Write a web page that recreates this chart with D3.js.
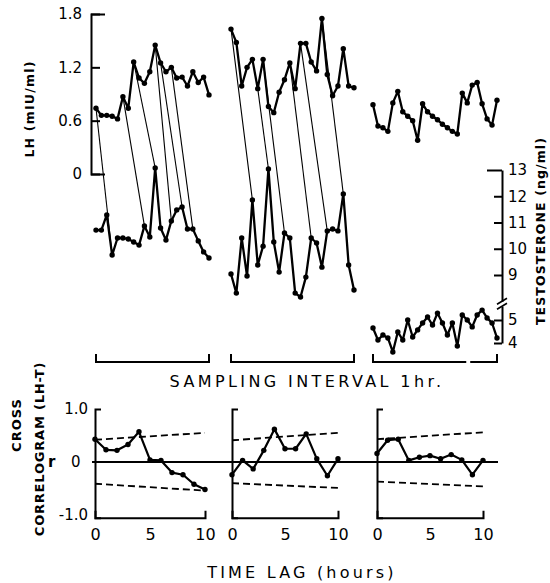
<!DOCTYPE html>
<html>
<head>
<meta charset="utf-8">
<script src="https://cdn.jsdelivr.net/npm/d3@7"></script>
<style>
  body { margin: 0; background: #fff; }
  svg { display: block; font-family: "DejaVu Sans", sans-serif; }
</style>
</head>
<body>
<div id="chart"></div>
<script>
let width = 550,
    height = 583;

// hourly LH (mIU/ml) and testosterone (ng/ml), three men
const lhA = [0.74, 0.66, 0.66, 0.65, 0.62, 0.87, 0.74, 1.26, 1.08, 1.02, 1.15, 1.45, 1.25, 1.15, 1.20, 1.08, 1.09, 0.99, 1.15, 1.03, 1.09, 0.89];
const tA  = [10.71, 10.71, 11.29, 9.76, 10.41, 10.41, 10.37, 10.26, 10.14, 10.87, 10.45, 13.08, 10.79, 10.33, 11.06, 11.48, 11.59, 10.75, 10.75, 10.30, 9.88, 9.65];
const lhB = [1.63, 1.48, 0.99, 1.20, 1.29, 0.96, 1.29, 0.76, 0.69, 0.92, 1.06, 1.25, 0.96, 1.47, 1.47, 1.26, 1.16, 1.75, 1.12, 0.88, 0.99, 1.41, 0.99, 0.97];
const tB  = [9.04, 8.31, 10.41, 8.96, 11.86, 9.38, 10.10, 13.04, 10.26, 9.11, 10.60, 10.41, 8.31, 8.16, 8.92, 10.41, 10.22, 9.30, 10.68, 10.75, 10.68, 12.09, 9.38, 8.43];
const lhC = [0.78, 0.54, 0.52, 0.48, 0.80, 0.93, 0.70, 0.65, 0.60, 0.38, 0.79, 0.70, 0.65, 0.61, 0.56, 0.52, 0.48, 0.45, 0.91, 0.80, 1.00, 1.03, 0.79, 0.62, 0.55, 0.83];
const tC  = [4.65, 4.13, 4.35, 4.22, 3.61, 4.48, 4.13, 5.00, 4.26, 4.57, 4.87, 5.13, 4.78, 5.30, 4.87, 4.35, 4.87, 3.87, 5.22, 5.00, 4.70, 5.22, 5.43, 5.09, 4.87, 4.22];

// LH pulse -> following T pulse (sample indexes)
const linksA = [[0, 3], [5, 9], [7, 11], [11, 14], [12, 16], [14, 18]];
const linksB = [[0, 4], [5, 7], [6, 10], [11, 15], [13, 18], [17, 21]];

const lhTicks = [0, 0.6, 1.2, 1.8];
const tTicksHi = [9, 10, 11, 12, 13];
const tTicksLo = [4, 5];

// cross correlograms
const lags = [0, 1, 2, 3, 4, 5, 6, 7, 8, 9, 10];
const ccA = [0.43, 0.23, 0.22, 0.33, 0.57, 0.04, 0.03, -0.20, -0.24, -0.42, -0.52];
const ccB = [-0.24, 0.03, -0.13, 0.22, 0.62, 0.25, 0.25, 0.53, 0.06, -0.26, 0.06];
const ccC = [0.16, 0.41, 0.43, 0.03, 0.09, 0.12, 0.06, 0.14, 0.04, -0.24, 0.03];
const limitLags = [0, 10];
const upperA = [0.42, 0.55], lowerA = [-0.41, -0.54];
const upperB = [0.41, 0.55], lowerB = [-0.40, -0.49];
const upperC = [0.43, 0.56], lowerC = [-0.37, -0.46];
const lagTicks = [0, 5, 10];
const rTicks = [-1, 1];
const rLabels = ["-1.0", "1.0"];

const svg = d3.select("#chart")
  .append("svg")
  .attr("width", width)
  .attr("height", height);

let lhY = d3.scaleLinear().domain([0, 1.8]).range([174, 14]);
let tHi = d3.scaleLinear().domain([9, 13]).range([275, 170]);
let tLo = d3.scaleLinear().domain([4, 5]).range([343, 320]);

let panels = [
  { lh: lhA, t: tA, ty: tHi, x0: 96, x1: 209, links: linksA, gap: null },
  { lh: lhB, t: tB, ty: tHi, x0: 231, x1: 354, links: linksB, gap: null },
  { lh: lhC, t: tC, ty: tLo, x0: 373, x1: 497, links: [], gap: [18.8, 19.6] }
];

// ---- LH axis
let lhAxis = svg.append("g")
  .attr("transform", "translate(91,0)")
  .call(d3.axisLeft(lhY).tickValues(lhTicks).tickSizeInner(-9).tickSizeOuter(-14).tickPadding(9)
    .tickFormat(d => d === 0 ? "0" : d.toFixed(1)));
lhAxis.selectAll("path, line").attr("stroke", "#000").attr("stroke-width", 2);
lhAxis.selectAll("text").attr("font-size", 15).attr("fill", "#000").attr("font-family", "DejaVu Sans");

svg.append("text")
  .attr("transform", "translate(34,109) rotate(-90)")
  .attr("text-anchor", "middle")
  .attr("font-size", 12.5).attr("font-weight", "bold").attr("letter-spacing", 1.2)
  .text("LH (mIU/ml)");

// ---- testosterone axis (with break)
let tAxisX = 502;
let tHiAx = tHi.copy().domain([8, 13]).range([tHi(8), tHi(13)]);
let tLoAx = tLo.copy().domain([4, 5.6]).range([tLo(4), tLo(5.6)]);

let tg1 = svg.append("g")
  .attr("transform", `translate(${tAxisX},0)`)
  .call(d3.axisRight(tHiAx).tickValues(tTicksHi).tickSizeInner(-8).tickSizeOuter(0).tickPadding(6)
    .tickFormat(d3.format("d")));
tg1.selectAll(".tick").filter(d => d === 13).select("line").attr("x2", -15);

let tg2 = svg.append("g")
  .attr("transform", `translate(${tAxisX},0)`)
  .call(d3.axisRight(tLoAx).tickValues(tTicksLo).tickSizeInner(-8).tickSizeOuter(0).tickPadding(6)
    .tickFormat(d3.format("d")));

for (let g of [tg1, tg2]) {
  g.selectAll("path, line").attr("stroke", "#000").attr("stroke-width", 2);
  g.selectAll("text").attr("font-size", 15).attr("fill", "#000").attr("font-family", "DejaVu Sans");
}

for (let yb of [tHiAx(8), tLoAx(5.6)]) {
  svg.append("line")
    .attr("x1", tAxisX - 5).attr("y1", yb + 3)
    .attr("x2", tAxisX + 5).attr("y2", yb - 3)
    .attr("stroke", "#000").attr("stroke-width", 1.6);
}

svg.append("text")
  .attr("transform", "translate(545,231) rotate(-90)")
  .attr("text-anchor", "middle")
  .attr("font-size", 12.5).attr("font-weight", "bold").attr("letter-spacing", 1.1)
  .text("TESTOSTERONE (ng/ml)");

// ---- series
for (let p of panels) {
  let x = d3.scaleLinear().domain([0, p.lh.length - 1]).range([p.x0, p.x1]);
  let g = svg.append("g");

  for (let [a, b] of p.links) {
    g.append("line")
      .attr("x1", x(a)).attr("y1", lhY(p.lh[a]))
      .attr("x2", x(b)).attr("y2", p.ty(p.t[b]))
      .attr("stroke", "#000").attr("stroke-width", 1.1);
  }

  let lhLine = d3.line().x((d, i) => x(i)).y(d => lhY(d));
  let tLine = d3.line().x((d, i) => x(i)).y(d => p.ty(d));

  g.append("path").datum(p.lh).attr("d", lhLine)
    .attr("fill", "none").attr("stroke", "#000").attr("stroke-width", 2.3).attr("stroke-linejoin", "round");
  g.append("path").datum(p.t).attr("d", tLine)
    .attr("fill", "none").attr("stroke", "#000").attr("stroke-width", 2.3).attr("stroke-linejoin", "round");

  g.selectAll(".lhdot").data(p.lh).join("circle")
    .attr("cx", (d, i) => x(i)).attr("cy", d => lhY(d)).attr("r", 2.7);
  g.selectAll(".tdot").data(p.t).join("circle")
    .attr("cx", (d, i) => x(i)).attr("cy", d => p.ty(d)).attr("r", 2.7);

  // sampling bracket
  let n = p.lh.length - 1;
  let segs = p.gap ? [[0, p.gap[0]], [p.gap[1], n]] : [[0, n]];
  let yB = 362, up = 8;
  let d = "";
  segs.forEach((s, k) => {
    let left = k === 0, right = k === segs.length - 1;
    d += `M${x(s[0])},${left ? yB - up : yB}V${yB}H${x(s[1])}${right ? "V" + (yB - up) : ""}`;
  });
  g.append("path").attr("d", d).attr("fill", "none").attr("stroke", "#000").attr("stroke-width", 2);
}

svg.append("text")
  .attr("x", 307).attr("y", 387)
  .attr("text-anchor", "middle")
  .attr("font-size", 16).attr("letter-spacing", 3.4)
  .text("SAMPLING INTERVAL 1hr.");

// ---- cross correlograms
let rScale = d3.scaleLinear().domain([-1, 1]).range([515, 409]);
let rFrame = rScale.copy().domain([-1.05, 1]).range([rScale(-1.05), rScale(1)]);

let ccPanels = [
  { cc: ccA, up: upperA, lo: lowerA, x0: 95, x1: 205 },
  { cc: ccB, up: upperB, lo: lowerB, x0: 232, x1: 338 },
  { cc: ccC, up: upperC, lo: lowerC, x0: 377, x1: 483 }
];

let lagScales = ccPanels.map(p => d3.scaleLinear().domain([0, 10]).range([p.x0, p.x1]));

svg.append("line")
  .attr("x1", lagScales[0](0) - 3).attr("x2", lagScales[2](10) + 15)
  .attr("y1", rScale(0)).attr("y2", rScale(0))
  .attr("stroke", "#000").attr("stroke-width", 2);

ccPanels.forEach((p, i) => {
  let x = lagScales[i];

  let ly = svg.append("g")
    .attr("transform", `translate(${p.x0},0)`)
    .call(d3.axisLeft(rFrame).tickValues([]).tickSizeOuter(-6));
  let lx = svg.append("g")
    .attr("transform", `translate(0,${rFrame(-1.05)})`)
    .call(d3.axisBottom(x).tickValues(lagTicks).tickSizeInner(0).tickSizeOuter(-7).tickPadding(11));

  for (let g of [ly, lx]) {
    g.selectAll("path, line").attr("stroke", "#000").attr("stroke-width", 2);
    g.selectAll("text").attr("font-size", 16).attr("fill", "#000").attr("font-family", "DejaVu Sans");
  }

  let dash = d3.line().x((d, k) => x(limitLags[k])).y(d => rScale(d));
  for (let b of [p.up, p.lo]) {
    svg.append("path").datum(b).attr("d", dash)
      .attr("fill", "none").attr("stroke", "#000").attr("stroke-width", 1.8).attr("stroke-dasharray", "7,4");
  }

  let line = d3.line().x((d, k) => x(lags[k])).y(d => rScale(d));
  svg.append("path").datum(p.cc).attr("d", line)
    .attr("fill", "none").attr("stroke", "#000").attr("stroke-width", 2.2).attr("stroke-linejoin", "round");
  svg.append("g").selectAll("circle").data(p.cc).join("circle")
    .attr("cx", (d, k) => x(lags[k])).attr("cy", d => rScale(d)).attr("r", 2.7);
});

// r labels on the first correlogram
svg.append("g").selectAll("text").data(rTicks).join("text")
  .attr("x", ccPanels[0].x0 - 7)
  .attr("y", d => rScale(d))
  .attr("dy", "0.35em")
  .attr("text-anchor", "end")
  .attr("font-size", 15)
  .attr("fill", "#000")
  .text((d, k) => rLabels[k]);

let rLab = svg.append("text")
  .attr("y", rScale(0) + 5)
  .attr("font-size", 15)
  .attr("fill", "#000");
rLab.append("tspan").attr("x", 48).attr("font-weight", "bold").text("r");
rLab.append("tspan").attr("x", 71).text("0");

svg.append("text")
  .attr("transform", "translate(21,425) rotate(-90)")
  .attr("text-anchor", "middle")
  .attr("font-size", 13).attr("font-weight", "bold").attr("letter-spacing", 1)
  .text("CROSS");
svg.append("text")
  .attr("transform", "translate(44,449) rotate(-90)")
  .attr("text-anchor", "middle")
  .attr("font-size", 13).attr("font-weight", "bold").attr("letter-spacing", 0.8)
  .text("CORRELOGRAM (LH-T)");

svg.append("text")
  .attr("x", 302).attr("y", 578)
  .attr("text-anchor", "middle")
  .attr("font-size", 16).attr("letter-spacing", 3.2)
  .text("TIME LAG (hours)");
</script>
</body>
</html>
